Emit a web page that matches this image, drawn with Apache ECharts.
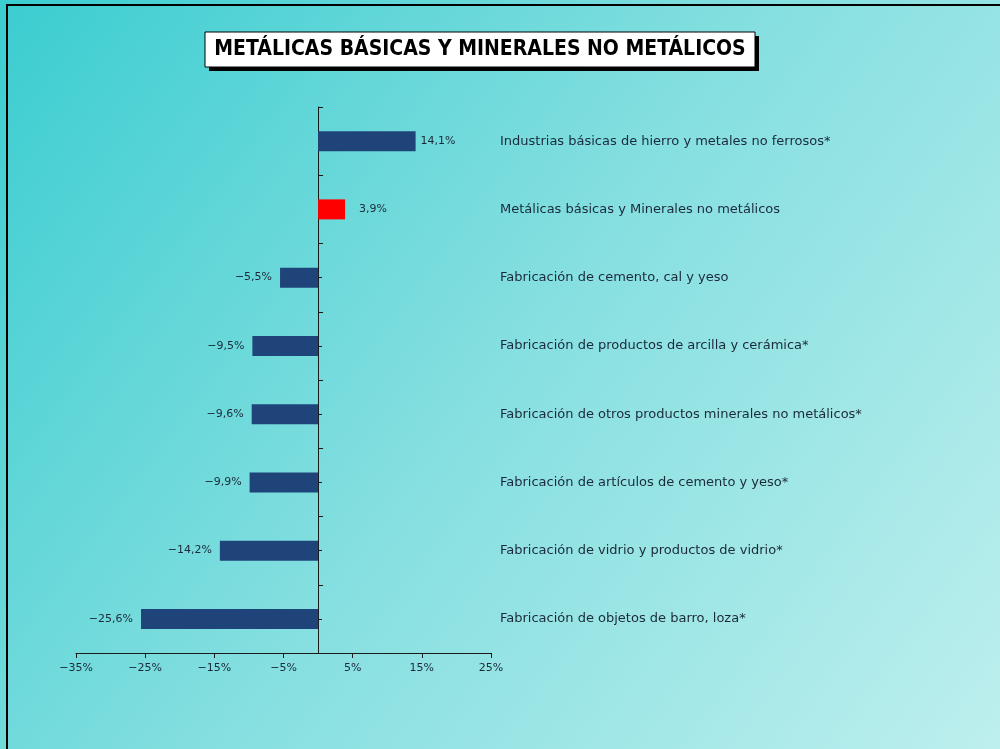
<!DOCTYPE html>
<html>
<head>
<meta charset="utf-8">
<script src="https://cdn.jsdelivr.net/npm/echarts@6/dist/echarts.min.js"></script>
<style>html,body{margin:0;padding:0;}#c{width:1000px;height:749px;}</style>
</head>
<body>
<div id="c"></div>
<script>
const categories = [
  "Industrias básicas de hierro y metales no ferrosos*",
  "Metálicas básicas y Minerales no metálicos",
  "Fabricación de cemento, cal y yeso",
  "Fabricación de productos de arcilla y cerámica*",
  "Fabricación de otros productos minerales no metálicos*",
  "Fabricación de artículos de cemento y yeso*",
  "Fabricación de vidrio y productos de vidrio*",
  "Fabricación de objetos de barro, loza*"
];
const values = [14.1, 3.9, -5.5, -9.5, -9.6, -9.9, -14.2, -25.6];
const highlightIndex = 1;
const tickValues = [-35, -25, -15, -5, 5, 15, 25];
const titleText = "METÁLICAS BÁSICAS Y MINERALES NO METÁLICOS";

const cats = categories.slice().reverse();
const vals = values.slice().reverse();
const hi = categories.length - 1 - highlightIndex;
const fmt = v => String(v).replace('-', '\u2212').replace('.', ',');

const chart = echarts.init(document.getElementById('c'), null, {renderer: 'canvas'});
const font = "'DejaVu Sans', sans-serif";
chart.setOption({
  backgroundColor: new echarts.graphic.LinearGradient(0, 0, 1, 1, [
    {offset: 0, color: '#3bcdd0'},
    {offset: 0.5, color: '#86dfe0'},
    {offset: 1, color: '#bdefee'}
  ]),
  animation: false,
  graphic: [
    {type: 'rect', shape: {x: 7, y: 5, width: 1010, height: 760}, style: {fill: 'none', stroke: '#000', lineWidth: 2}},
    {type: 'rect', shape: {x: 209, y: 36, width: 550, height: 35}, style: {fill: '#000'}},
    {type: 'rect', shape: {x: 205, y: 32, width: 550, height: 35}, style: {fill: '#fff', stroke: '#000', lineWidth: 1}},
    {type: 'text', x: 480, y: 50, style: {text: titleText, fill: '#000', font: "bold 21px 'DejaVu Sans Condensed', sans-serif", align: 'center', verticalAlign: 'middle'}}
  ],
  grid: {left: 76, right: 509, top: 107, bottom: 96, containLabel: false},
  xAxis: {
    type: 'value', min: -35, max: 25,
    splitLine: {show: false},
    axisLine: {show: true, onZero: false, lineStyle: {color: '#1a1a1a', width: 1}},
    axisTick: {show: true, length: 5, customValues: tickValues, lineStyle: {color: '#1a1a1a'}},
    axisLabel: {customValues: tickValues, formatter: v => fmt(v) + '%', color: '#1a2a3a', fontSize: 11, fontFamily: font, margin: 10}
  },
  yAxis: [
    {
      type: 'category', data: cats, boundaryGap: true,
      axisLine: {show: true, onZero: true, lineStyle: {color: '#1a1a1a', width: 1}},
      axisTick: {show: true, inside: true, length: 5, lineStyle: {color: '#1a1a1a'}},
      axisLabel: {show: false}
    },
    {
      type: 'category', data: cats, boundaryGap: true, position: 'left', offset: -242,
      axisLine: {show: false, onZero: false},
      axisTick: {show: true, inside: true, alignWithLabel: true, length: 4, lineStyle: {color: '#1a1a1a'}},
      axisLabel: {show: false}
    },
    {
      type: 'category', data: cats, boundaryGap: true, position: 'right',
      axisLine: {show: false, onZero: false},
      axisTick: {show: false},
      axisLabel: {show: true, inside: false, align: 'left', margin: 9, color: '#1a2a3a', fontSize: 13, fontFamily: font, padding: [0, 0, 6, 0]}
    }
  ],
  series: [{
    type: 'bar',
    yAxisIndex: 0,
    barWidth: 20,
    data: vals.map((v, i) => ({
      value: v,
      itemStyle: {color: i === hi ? '#ff0000' : '#1f4479'},
      label: {position: v >= 0 ? 'right' : 'left', distance: i === hi ? 14 : (v >= 0 ? 5 : 8)}
    })),
    label: {
      show: true, color: '#1a2a3a', fontSize: 11, fontFamily: font,
      formatter: p => fmt(p.value) + '%'
    }
  }]
});
</script>
</body>
</html>
